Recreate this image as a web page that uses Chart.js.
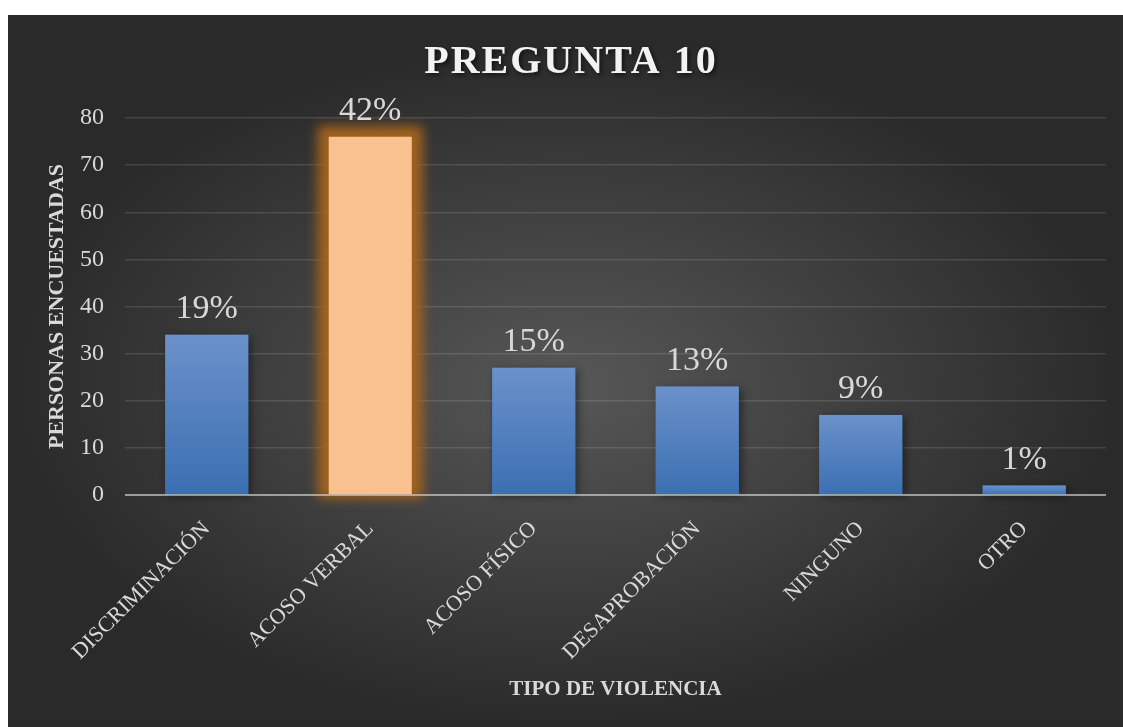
<!DOCTYPE html>
<html>
<head>
<meta charset="utf-8">
<script src="https://cdn.jsdelivr.net/npm/chart.js@4.4.1/dist/chart.umd.min.js"></script>
<style>
  html, body { margin: 0; padding: 0; background: #fff; }
  #box {
    position: absolute; left: 8px; top: 15px; width: 1115px; height: 712px;
    background: radial-gradient(ellipse closest-side at 50% 52%, #575757 0%, #2a2a2a 100%);
  }
</style>
</head>
<body>
<div id="box"><canvas id="chart"></canvas></div>
<script>
// Chart data
const categories = ['DISCRIMINACIÓN', 'ACOSO VERBAL', 'ACOSO FÍSICO', 'DESAPROBACIÓN', 'NINGUNO', 'OTRO'];
const personas = [34, 76, 27, 23, 17, 2];
const percentLabels = ['19%', '42%', '15%', '13%', '9%', '1%'];
const yMin = 0, yMax = 80, yStep = 10;
const highlightIndex = 1;

Chart.defaults.font.family = '"Liberation Serif", "DejaVu Serif", serif';
Chart.defaults.color = '#d9d9d9';

// Blue bars get a light-to-dark vertical gradient each
function blueFill(ctx) {
    const chart = ctx.chart;
    const y = chart.scales.y;
    if (!y || !chart.chartArea) return '#4f7fc0';
    const top = y.getPixelForValue(ctx.raw);
    const bottom = y.getPixelForValue(0);
    const g = chart.ctx.createLinearGradient(0, top, 0, bottom);
    g.addColorStop(0, '#6b91ca');
    g.addColorStop(1, '#3b6fb2');
    return g;
}

// Glow behind the highlighted bar, soft shadow behind the others
const barGlow = {
    id: 'barGlow',
    beforeDatasetsDraw(chart) {
        const c = chart.ctx;
        chart.getDatasetMeta(0).data.forEach((bar, i) => {
            const h = bar.base - bar.y;
            const left = bar.x - bar.width / 2;
            c.save();
            if (i === highlightIndex) {
                const g = 11;
                c.filter = 'blur(6px)';
                c.fillStyle = 'rgba(168,100,28,0.95)';
                c.fillRect(left - g, bar.y - g, bar.width + 2 * g, h + g + 4);
            } else {
                c.shadowColor = 'rgba(0,0,0,0.45)';
                c.shadowBlur = 8;
                c.shadowOffsetX = 3;
                c.shadowOffsetY = 2;
                c.fillStyle = '#3b6fb2';
                c.fillRect(left, bar.y, bar.width, h);
            }
            c.restore();
        });
    }
};

// Percent labels above the bars + the zero line on top
const pctLabels = {
    id: 'pctLabels',
    afterDatasetsDraw(chart) {
        const c = chart.ctx;
        const area = chart.chartArea;
        const y0 = chart.scales.y.getPixelForValue(0);
        c.save();
        c.strokeStyle = 'rgba(217,217,217,0.6)';
        c.lineWidth = 2;
        c.beginPath();
        c.moveTo(area.left, y0);
        c.lineTo(area.right, y0);
        c.stroke();

        c.font = '34px "Liberation Serif"';
        c.fillStyle = '#d9d9d9';
        c.textAlign = 'center';
        c.textBaseline = 'alphabetic';
        chart.getDatasetMeta(0).data.forEach((bar, i) => {
            c.fillText(percentLabels[i], bar.x, bar.y - 17);
        });
        c.restore();
    }
};

// Title drawn by hand so it can have a shadow and letter spacing
const titleText = 'PREGUNTA 10';
const bigTitle = {
    id: 'bigTitle',
    afterDraw(chart) {
        const c = chart.ctx;
        c.save();
        c.font = 'bold 40px "Liberation Serif"';
        c.letterSpacing = '2px';
        c.fillStyle = '#f2f2f2';
        c.textAlign = 'center';
        c.textBaseline = 'middle';
        c.shadowColor = 'rgba(0,0,0,0.6)';
        c.shadowBlur = 4;
        c.shadowOffsetX = 2;
        c.shadowOffsetY = 2;
        c.fillText(titleText, 563, 48);
        c.restore();
    }
};

const chart = new Chart(document.getElementById('chart'), {
    type: 'bar',
    data: {
        labels: categories,
        datasets: [{
            data: personas,
            backgroundColor: ctx => ctx.dataIndex === highlightIndex ? '#f8c18f' : blueFill(ctx),
            borderWidth: 0,
            categoryPercentage: 1,
            barPercentage: 0.508
        }]
    },
    options: {
        responsive: true,
        maintainAspectRatio: false,
        animation: false,
        layout: { padding: { left: 0, right: 17, top: 103, bottom: 0 } },
        plugins: {
            legend: { display: false },
            tooltip: { enabled: false }
        },
        scales: {
            x: {
                grid: { display: false },
                border: { display: false },
                ticks: {
                    color: '#d9d9d9',
                    font: { size: 22 },
                    minRotation: 45,
                    maxRotation: 45,
                    autoSkip: false,
                    padding: 13
                },
                title: {
                    display: true,
                    text: 'TIPO DE VIOLENCIA',
                    color: '#d9d9d9',
                    font: { size: 21, weight: 'bold' },
                    padding: { top: 4, bottom: 25 }
                },
                afterFit(scale) { scale.height = 232; }
            },
            y: {
                min: yMin,
                max: yMax,
                ticks: { stepSize: yStep, color: '#d9d9d9', font: { size: 24 }, padding: 21 },
                grid: { color: 'rgba(255,255,255,0.12)', lineWidth: 1.5, drawTicks: false },
                border: { display: false },
                title: {
                    display: true,
                    text: 'PERSONAS ENCUESTADAS',
                    color: '#d9d9d9',
                    font: { size: 22, weight: 'bold' },
                    padding: { top: 36, bottom: 4 }
                },
                afterFit(scale) { scale.width = 117; }
            }
        }
    },
    plugins: [barGlow, pctLabels, bigTitle]
});
</script>
</body>
</html>
